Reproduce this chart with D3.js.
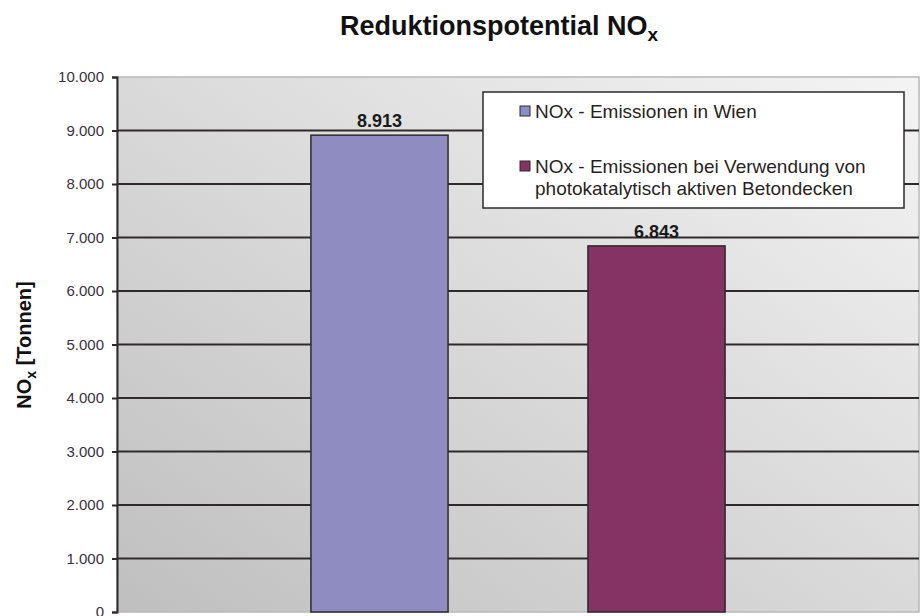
<!DOCTYPE html>
<html>
<head>
<meta charset="utf-8">
<script src="https://cdn.jsdelivr.net/npm/d3@7"></script>
<style>
  body { margin: 0; background: #fff; }
  svg { display: block; font-family: Arial, "Liberation Sans", sans-serif; }
</style>
</head>
<body>
<svg width="924" height="616"></svg>
<script>
const series = ["NOx - Emissionen in Wien", "NOx - Emissionen bei Verwendung von photokatalytisch aktiven Betondecken"];
const values = [8913, 6843];
const colors = ["#8f8cc1", "#843364"];
const yTicks = [0, 1000, 2000, 3000, 4000, 5000, 6000, 7000, 8000, 9000, 10000];

const svg = d3.select("svg");
const margin = { left: 117, right: 5, top: 77, bottom: 4 };
const width = 924, height = 616;

const fmt = d3.formatLocale({ decimal: ",", thousands: ".", grouping: [3], currency: ["", "€"] }).format(",.0f");

const x = d3.scaleBand()
    .domain(series)
    .range([margin.left, width - margin.right])
    .paddingInner(0.505)
    .paddingOuter(0.70);

const y = d3.scaleLinear()
    .domain([0, 10000])
    .range([height - margin.bottom, margin.top]);

// --- PLOT BACKGROUND GRADIENT ---
const defs = svg.append("defs");
const grad = defs.append("linearGradient")
    .attr("id", "bg")
    .attr("x1", "0%").attr("y1", "100%")
    .attr("x2", "100%").attr("y2", "0%");
grad.append("stop").attr("offset", "0%").attr("stop-color", "#bfbfbf");
grad.append("stop").attr("offset", "100%").attr("stop-color", "#f4f4f4");

svg.append("rect")
    .attr("x", margin.left)
    .attr("y", margin.top)
    .attr("width", width - margin.right - margin.left)
    .attr("height", y(0) - margin.top)
    .attr("fill", "url(#bg)")
    .attr("stroke", "#b8b8b8")
    .attr("stroke-width", 1.5);

// --- GRID LINES ---
svg.append("g")
    .selectAll("line")
    .data(yTicks.filter(d => d > 0 && d < 10000))
    .enter()
    .append("line")
    .attr("x1", margin.left)
    .attr("x2", width - margin.right)
    .attr("y1", d => y(d))
    .attr("y2", d => y(d))
    .attr("stroke", "#2e2a2c")
    .attr("stroke-width", 2);

// --- Y AXIS ---
const yAxis = svg.append("g")
    .attr("transform", `translate(${margin.left},0)`)
    .call(d3.axisLeft(y).tickValues(yTicks).tickFormat(fmt).tickSize(5).tickPadding(8));
yAxis.select(".domain").attr("stroke", "#2e2a2c").attr("stroke-width", 2);
yAxis.selectAll(".tick line").attr("stroke", "#2e2a2c").attr("stroke-width", 2);
yAxis.selectAll(".tick text")
    .attr("fill", "#3a3040")
    .style("font-size", "15px")
    .style("font-family", "Arial, 'Liberation Sans', sans-serif");

// --- BARS ---
svg.append("g")
    .selectAll("rect")
    .data(series)
    .enter()
    .append("rect")
    .attr("x", d => x(d))
    .attr("y", (d, i) => y(values[i]))
    .attr("width", x.bandwidth())
    .attr("height", (d, i) => y(0) - y(values[i]))
    .attr("fill", (d, i) => colors[i])
    .attr("stroke", "#2e2a2c")
    .attr("stroke-width", 1.5);

// --- VALUE LABELS ---
svg.append("g")
    .selectAll("text")
    .data(series)
    .enter()
    .append("text")
    .attr("x", d => x(d) + x.bandwidth() / 2)
    .attr("y", (d, i) => y(values[i]) - 8)
    .attr("text-anchor", "middle")
    .attr("font-size", 18)
    .attr("font-weight", "bold")
    .attr("fill", "#1a1a1a")
    .text((d, i) => fmt(values[i]));

// --- TITLE ---
const title = svg.append("text")
    .attr("x", 499)
    .attr("y", 35)
    .attr("text-anchor", "middle")
    .attr("font-size", 27)
    .attr("font-weight", "bold")
    .attr("fill", "#111");
title.append("tspan").text("Reduktionspotential NO");
title.append("tspan").attr("font-size", 19).attr("dy", 6).text("x");

// --- Y AXIS TITLE ---
const yTitle = svg.append("text")
    .attr("transform", "translate(31,345) rotate(-90)")
    .attr("text-anchor", "middle")
    .attr("font-size", 20)
    .attr("font-weight", "bold")
    .attr("fill", "#111");
yTitle.append("tspan").text("NO");
yTitle.append("tspan").attr("font-size", 14).attr("dy", 5).text("x");
yTitle.append("tspan").attr("dy", -5).text(" [Tonnen]");

// --- LEGEND ---
const legend = svg.append("g");
legend.append("rect")
    .attr("x", 483).attr("y", 92)
    .attr("width", 421).attr("height", 116)
    .attr("fill", "#fff")
    .attr("stroke", "#2e2a2c")
    .attr("stroke-width", 1.5);

const legendLines = [["NOx - Emissionen in Wien"], ["NOx - Emissionen bei Verwendung von", "photokatalytisch aktiven Betondecken"]];
const legendY = [118, 173];
legendLines.forEach((lines, i) => {
    legend.append("rect")
        .attr("x", 520).attr("y", legendY[i] - 12)
        .attr("width", 10).attr("height", 10)
        .attr("fill", colors[i])
        .attr("stroke", "#2e2a2c")
        .attr("stroke-width", 1);
    lines.forEach((t, j) => {
        legend.append("text")
            .attr("x", 535)
            .attr("y", legendY[i] + j * 22)
            .attr("font-size", 19)
            .attr("fill", "#2a1f1f")
            .text(t);
    });
});
</script>
</body>
</html>
